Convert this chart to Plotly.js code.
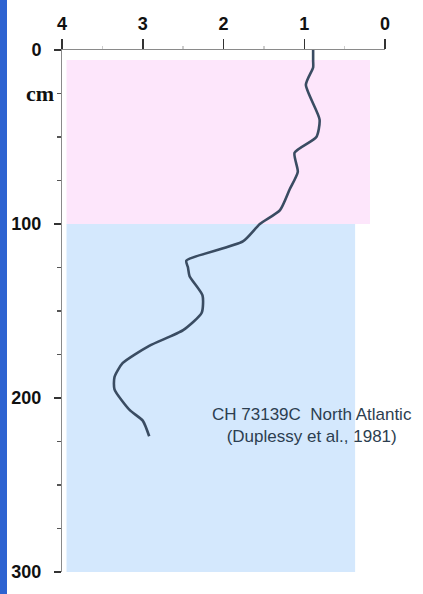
<!DOCTYPE html>
<html>
<head>
<meta charset="utf-8">
<script src="https://cdn.plot.ly/plotly-3.0.1.min.js"></script>
<style>
  html, body { margin: 0; padding: 0; background: #ffffff; }
  #chart { width: 423px; height: 594px; }
</style>
</head>
<body>
<div id="chart"></div>
<script>
// Core CH 73139C, North Atlantic: oxygen-isotope value against depth (cm)
const depthCm = [0, 6, 10, 20, 40, 50, 59, 70, 80, 92, 100, 110, 121, 125, 130, 141, 151, 161, 170, 180, 188, 195, 207, 213, 222];
const isotope = [0.89, 0.89, 0.89, 0.98, 0.81, 0.85, 1.12, 1.08, 1.18, 1.30, 1.55, 1.76, 2.46, 2.44, 2.42, 2.26, 2.27, 2.50, 2.92, 3.25, 3.35, 3.35, 3.16, 3.00, 2.92];

// Shaded depth zones (upper = pink, lower = blue)
const zoneNames = ["upper", "lower"];
const zoneTop = [5.7, 100];
const zoneBottom = [100, 300];
const zoneFrom = [3.944, 3.944];
const zoneTo = [0.186, 0.37];

// Axis ticks
const xTicks = [0, 1, 2, 3, 4];
const yTicks = [0, 100, 200, 300];

const zoneColors = { upper: "#fde6fb", lower: "#d4e8fd" };

const shapes = zoneNames.map((name, i) => ({
  type: "rect", xref: "x", yref: "y", layer: "below",
  x0: zoneFrom[i], x1: zoneTo[i], y0: zoneTop[i], y1: zoneBottom[i],
  fillcolor: zoneColors[name], line: { width: 0 }
}));

// blue strip along the left edge of the page
shapes.push({
  type: "rect", xref: "paper", yref: "paper", xsizemode: "pixel", xanchor: 0,
  x0: -62, x1: -55, y0: -0.1, y1: 1.2,
  fillcolor: "#2d63d1", line: { width: 0 }, layer: "below"
});

const trace = {
  type: "scatter", mode: "lines",
  x: isotope, y: depthCm,
  line: { color: "#3a4c62", width: 2.6, shape: "spline", smoothing: 0.6 },
  hoverinfo: "skip"
};

const tickFont = { family: "Liberation Sans, Arial, sans-serif", size: 18, color: "#111", weight: "bold" };

const layout = {
  width: 423, height: 594,
  margin: { l: 62, r: 38, t: 50, b: 22 },
  paper_bgcolor: "#ffffff", plot_bgcolor: "#ffffff",
  showlegend: false,
  xaxis: {
    side: "top", range: [4, 0], tickvals: xTicks, ticktext: xTicks.map(String),
    ticks: "outside", ticklen: 10, tickwidth: 1.5, tickcolor: "#333",
    showline: true, linecolor: "#8a8a8a", linewidth: 1,
    showgrid: false, zeroline: false, tickfont: tickFont, ticklabelstandoff: 2,
    minor: { dtick: 0.5, ticks: "outside", ticklen: 3, tickcolor: "#ccc" }
  },
  yaxis: {
    range: [300, 0], tickvals: yTicks, ticktext: yTicks.map(String),
    ticks: "outside", ticklen: 7, tickwidth: 1.5, tickcolor: "#333",
    showline: true, linecolor: "#8a8a8a", linewidth: 1,
    showgrid: false, zeroline: false, tickfont: tickFont, ticklabelstandoff: 9,
    minor: { dtick: 25, ticks: "outside", ticklen: 4, tickcolor: "#555" }
  },
  shapes: shapes,
  annotations: [
    {
      xref: "paper", yref: "y", x: -0.068, y: 25, showarrow: false,
      text: "cm", xanchor: "center", yanchor: "middle",
      font: { family: "Liberation Serif, Times New Roman, serif", size: 22, color: "#111", weight: "bold" }
    },
    {
      xref: "x", yref: "y", x: 0.906, y: 216, showarrow: false,
      text: "CH 73139C  North Atlantic<br>(Duplessy et al., 1981)",
      xanchor: "center", yanchor: "middle", align: "center",
      font: { family: "Liberation Sans, Arial, sans-serif", size: 17, color: "#2c3e50" }
    }
  ]
};

Plotly.newPlot("chart", [trace], layout, { staticPlot: true, displayModeBar: false });
</script>
</body>
</html>
